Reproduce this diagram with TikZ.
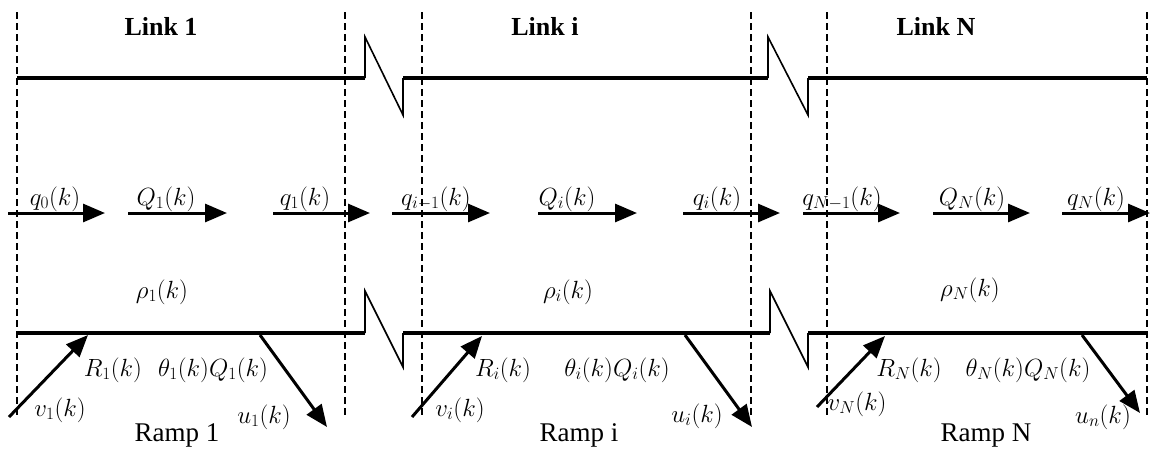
\documentclass[tikz,border=0pt]{standalone}
\usepackage{fontspec}
\setmainfont{Liberation Serif}
\usetikzlibrary{arrows.meta}
\begin{document}
\begin{tikzpicture}[x=1pt,y=-1pt,
  lbl/.style={font=\fontsize{26}{30}\selectfont, inner sep=0pt, anchor=base},
  rmp/.style={font=\fontsize{27}{30}\selectfont, inner sep=0pt, anchor=base},
  ttl/.style={font=\fontsize{26}{30}\selectfont\bfseries, inner sep=0pt, anchor=base},
  road/.style={line width=3.5pt},
  zig/.style={line width=1.6pt, line join=miter},
  bound/.style={line width=1.5pt, dash pattern=on 7pt off 4pt},
  flow/.style={line width=3pt, -{Triangle[length=22pt,width=18pt]}},
]
\useasboundingbox (0,0) rectangle (1156,448);

% boundaries
\foreach \x [count=\n] in {17,345,422,751,827,1147}{
  \coordinate (bt\n) at (\x,12);
  \coordinate (bb\n) at (\x,418);
  \draw[bound] (bt\n) -- (bb\n);
}

% top road
\coordinate (t0) at (17,78);
\coordinate (t1) at (365,78);
\coordinate (t2) at (403,78);
\coordinate (t3) at (768,78);
\coordinate (t4) at (808,78);
\coordinate (t5) at (1147,78);
\draw[road] (t0) -- (t1);
\draw[road] (t2) -- (t3);
\draw[road] (t4) -- (t5);
\draw[zig] (t1) -- ++(0,-41) -- (t2 |- 0,115) -- (t2);
\draw[zig] (t3) -- ++(0,-41) -- (t4 |- 0,115) -- (t4);

% bottom road
\coordinate (b0) at (17,333);
\coordinate (b1) at (365,333);
\coordinate (b2) at (403,333);
\coordinate (b3) at (770,333);
\coordinate (b4) at (808,333);
\coordinate (b5) at (1147,333);
\draw[road] (b0) -- (b1);
\draw[road] (b2) -- (b3);
\draw[road] (b4) -- (b5);
\draw[zig] (b1) -- ++(0,-42) -- (b2 |- 0,367) -- (b2);
\draw[zig] (b3) -- ++(0,-42) -- (b4 |- 0,367) -- (b4);

% titles
\node[ttl] (l1) at (161,35) {Link 1};
\node[ttl] (li) at (545,35) {Link i};
\node[ttl] (lN) at (936,35) {Link N};

% mainline flows
\foreach \a/\b/\c/\t [count=\n] in {
  8/105/55/{q_0(k)},
  128/227/166/{Q_1(k)},
  273/370/305/{q_1(k)},
  392/490/436/{q_{i-1}(k)},
  538/637/567/{Q_i(k)},
  683/780/717/{q_i(k)},
  803/900/842/{q_{N-1}(k)},
  933/1030/972/{Q_N(k)},
  1062/1150/1096/{q_N(k)}}{
  \coordinate (fs\n) at (\a,213);
  \coordinate (fe\n) at (\b,213);
  \draw[flow] (fs\n) -- (fe\n);
  \node[lbl] (fl\n) at (\c,205) {$\t$};
}

% densities
\node[lbl, anchor=center] (r1) at (162,292) {$\rho_1(k)$};
\node[lbl, anchor=center] (ri) at (568,292) {$\rho_i(k)$};
\node[lbl, anchor=center] (rN) at (970,290) {$\rho_N(k)$};

% on-ramps
\coordinate (v1s) at (9,417);   \coordinate (v1e) at (88,335);
\coordinate (vis) at (412,417); \coordinate (vie) at (482,336);
\coordinate (vNs) at (817,407); \coordinate (vNe) at (885,336);
\draw[flow] (v1s) -- (v1e);
\draw[flow] (vis) -- (vie);
\draw[flow] (vNs) -- (vNe);

% off-ramps
\coordinate (u1s) at (260,335);  \coordinate (u1e) at (327,427);
\coordinate (uis) at (685,335);  \coordinate (uie) at (752,427);
\coordinate (uNs) at (1082,335); \coordinate (uNe) at (1140,413);
\draw[flow] (u1s) -- (u1e);
\draw[flow] (uis) -- (uie);
\draw[flow] (uNs) -- (uNe);

% ramp labels
\node[lbl] (R1) at (113,376) {$R_1(k)$};
\node[lbl] (T1) at (213,376) {$\theta_1(k)Q_1(k)$};
\node[lbl] (V1) at (60,416) {$v_1(k)$};
\node[lbl] (U1) at (264,423) {$u_1(k)$};
\node[rmp] (P1) at (177,441) {Ramp 1};

\node[lbl] (Ri) at (503,376) {$R_i(k)$};
\node[lbl] (Ti) at (617,376) {$\theta_i(k)Q_i(k)$};
\node[lbl] (Vi) at (460,416) {$v_i(k)$};
\node[lbl] (Ui) at (697,422) {$u_i(k)$};
\node[rmp] (Pi) at (579,441) {Ramp i};

\node[lbl] (RN) at (909,376) {$R_N(k)$};
\node[lbl] (TN) at (1028,376) {$\theta_N(k)Q_N(k)$};
\node[lbl] (VN) at (857,410) {$v_N(k)$};
\node[lbl] (UN) at (1103,423) {$u_n(k)$};
\node[rmp] (PN) at (986,441) {Ramp N};
\end{tikzpicture}
\end{document}
